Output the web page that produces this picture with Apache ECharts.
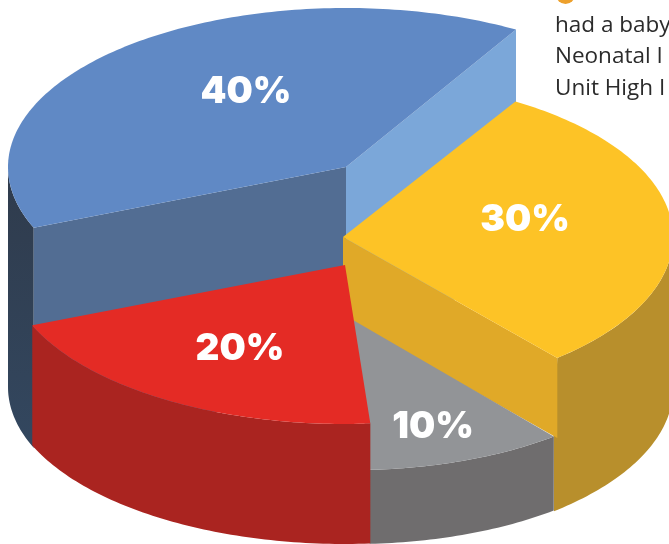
<!DOCTYPE html>
<html>
<head>
<meta charset="utf-8">
<style>
  html, body { margin: 0; padding: 0; background: #fff; }
  #main { width: 669px; height: 544px; }
</style>
<script src="https://cdn.jsdelivr.net/npm/echarts@6/dist/echarts.min.js"></script>
</head>
<body>
<div id="main"></div>
<script>
// values, counter-clockwise on screen from the back right edge
var sliceNames = ['Blue', 'Red', 'Grey', 'Yellow'];
var sliceValues = [40, 20, 10, 30];
var sliceLabels = ['40%', '20%', '10%', '30%'];
var paragraphLines = ['had a baby', 'Neonatal I', 'Unit High I'];

// look of each slice, same order as above
var topColors = ['#6089c5', '#e42b25', '#929497', '#fdc326'];
var outerColors = ['#2f3b4c', '#aa2420', '#6f6d6e', '#b88f2c'];
var outerBottomColors = ['#33475f', '#aa2420', '#6f6d6e', '#b88f2c'];
var startWallColors = ['#7ba7d9', null, null, '#e0a928'];
var endWallColors = ['#526d93', null, null, null];
var centerX = [346, 345, 353, 343];
var centerY = [167, 265, 320, 237];
var radiusX = [338, 338, 319, 330];
var radiusY = [159, 159, 150, 159];
var depths = [220, 120, 74, 152];
var startWallDepths = [220, 0, 0, 80];
var drawRank = [0, 3, 2, 1];
var angleShift = [0, -0.2, -1.5, 0];
var startTrim = [1.3, 0, 0, 0];
var bottomExtend = [0, 0, 0, 0.75];
var outerCorner = [null, null, null, [553.5, 437]];
var labelX = [246, 240, 433, 525];
var labelY = [92, 349, 427, 220];

var startAngle = 58.5;
var total = sliceValues.reduce(function (a, b) { return a + b; }, 0);

var myChart = echarts.init(document.getElementById('main'), null, { renderer: 'canvas' });

function arcPoints(i, from, to, drop) {
  var pts = [];
  var n = Math.max(2, Math.ceil(Math.abs(to - from)));
  for (var k = 0; k <= n; k++) {
    var t = (from + (to - from) * k / n) * Math.PI / 180;
    pts.push([centerX[i] + radiusX[i] * Math.cos(t), centerY[i] - radiusY[i] * Math.sin(t) + drop]);
  }
  return pts;
}

function poly(points, color, z2) {
  return { type: 'polygon', shape: { points: points }, z2: z2, style: { fill: color, stroke: null } };
}

function edgeWall(i, angle, color, d, z2) {
  var p = arcPoints(i, angle, angle, 0)[0];
  return poly([[centerX[i], centerY[i]], p, [p[0], p[1] + d], [centerX[i], centerY[i] + d]], color, z2);
}

function renderSlice(params, api) {
  var i = params.dataIndex;
  var before = 0;
  for (var j = 0; j < i; j++) before += sliceValues[j];
  var from = startAngle + before / total * 360 + angleShift[i];
  var to = from + api.value(0) / total * 360;
  from += startTrim[i];
  var base = drawRank[i] * 10;
  var children = [];

  // outer wall, only the part that faces the viewer
  var lo = Math.max(from, 180), hi = Math.min(to, 360);
  if (hi > lo) {
    var upper = arcPoints(i, lo, hi, 0);
    var lower = arcPoints(i, hi, lo - bottomExtend[i], depths[i]);
    var outline = upper.concat(lower);
    if (outerCorner[i]) outline.push(outerCorner[i]);
    children.push(poly(outline, new echarts.graphic.LinearGradient(0, 0, 0, 1, [
      { offset: 0, color: outerColors[i] },
      { offset: 1, color: outerBottomColors[i] }
    ]), base));
  }
  if (startWallColors[i]) children.push(edgeWall(i, from, startWallColors[i], startWallDepths[i], base + 1));
  if (endWallColors[i]) children.push(edgeWall(i, to, endWallColors[i], depths[i], base + 1));

  // top face
  var face = [[centerX[i], centerY[i]]].concat(arcPoints(i, from, to, 0));
  children.push(poly(face, topColors[i], base + 2));

  children.push({
    type: 'text',
    z2: 100,
    style: {
      x: labelX[i],
      y: labelY[i],
      text: sliceLabels[i],
      fill: '#fff',
      font: '900 37px Inter',
      align: 'center',
      verticalAlign: 'middle'
    }
  });

  return { type: 'group', children: children };
}

var option = {
  animation: false,
  backgroundColor: '#fff',
  graphic: [
    { type: 'circle', shape: { cx: 565.5, cy: -5.5, r: 9.5 }, style: { fill: '#eda02c' } }
  ].concat(paragraphLines.map(function (line, n) {
    return {
      type: 'text',
      x: 555,
      y: 37 + n * 31.5,
      style: { text: line, fill: '#2b2b2b', font: '22.5px "Open Sans"', verticalAlign: 'bottom' }
    };
  })),
  series: [{
    type: 'custom',
    coordinateSystem: 'none',
    silent: true,
    renderItem: renderSlice,
    data: sliceValues.map(function (v, i) {
      return { name: sliceNames[i], value: [v] };
    })
  }]
};

myChart.setOption(option);
</script>
</body>
</html>
